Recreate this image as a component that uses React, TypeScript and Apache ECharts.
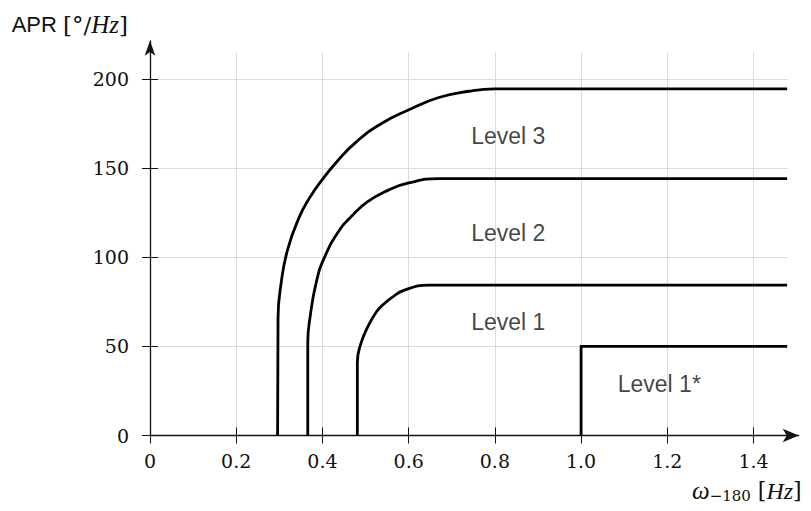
import { useEffect, useRef } from 'react';
import * as echarts from 'echarts';

// ---- Data ----
const xTicks = [0, 0.2, 0.4, 0.6, 0.8, 1.0, 1.2, 1.4];
const xTickLabels = ['0', '0.2', '0.4', '0.6', '0.8', '1.0', '1.2', '1.4'];
const yTicks = [0, 50, 100, 150, 200];
const yTickLabels = ['0', '50', '100', '150', '200'];

const level3: [number, number][] = [
  [0.296, 0], [0.297, 65.8], [0.304, 85], [0.319, 104], [0.346, 122.3], [0.369, 132.8],
  [0.4, 143.6], [0.436, 154.2], [0.478, 164.5], [0.536, 174.8], [0.602, 182.8],
  [0.67, 189.5], [0.739, 193], [0.8, 194.3], [1.478, 194.3],
];
const level2: [number, number][] = [
  [0.366, 0], [0.366, 52], [0.371, 65.8], [0.386, 86.2], [0.405, 100], [0.44, 115.4],
  [0.468, 123], [0.504, 131], [0.554, 137.7], [0.598, 141.5], [0.671, 144], [1.478, 144],
];
const level1: [number, number][] = [
  [0.481, 0], [0.481, 40.8], [0.488, 50.7], [0.508, 62.3], [0.527, 69.9], [0.541, 73.4],
  [0.56, 77.2], [0.59, 81.5], [0.648, 84.3], [1.478, 84.3],
];
const level1Star: [number, number][] = [[1.0, 0], [1.0, 50], [1.478, 50]];

const levelNames = ['Level 3', 'Level 2', 'Level 1', 'Level 1*'];
const levelLabelX = [0.745, 0.745, 0.745, 1.085];
const levelLabelY = [167.8, 113.8, 63.8, 28.8];

const W = 811;
const H = 511;

export default function App() {
  const ref = useRef<HTMLDivElement>(null);
  useEffect(() => {
    const el = ref.current as HTMLDivElement;
    const chart = echarts.init(el, null, { renderer: 'svg' });
    const plot = { left: 150, right: 23, top: 52, bottom: 75.5 };
    const axes = { left: 150, right: 12.3, top: 40.8, bottom: 75.5 };
    const xMax = 1.48;
    const yMax = 215;
    const xMaxAxes = (xMax * (W - axes.left - axes.right)) / (W - plot.left - plot.right);
    const yMaxAxes = (yMax * (H - axes.top - axes.bottom)) / (H - plot.top - plot.bottom);
    const ink = '#111';
    const pick = (ticks: number[], labels: string[]) => (v: number) => {
      const i = ticks.findIndex((t) => Math.abs(t - v) < 1e-6);
      return i >= 0 ? labels[i] : '';
    };
    const tickFont = { fontFamily: 'DejaVu Serif', fontSize: 19, color: ink };
    const curve = (name: string, data: [number, number][]) => ({
      type: 'line',
      name,
      xAxisIndex: 0,
      yAxisIndex: 0,
      data,
      symbol: 'none',
      showSymbol: false,
      smooth: 0.5,
      silent: true,
      z: 4,
      lineStyle: { color: '#000', width: 2.8, join: 'round', cap: 'butt' },
    });

    chart.setOption({
      animation: false,
      backgroundColor: '#ffffff',
      grid: [
        { ...plot, containLabel: false, outerBoundsMode: 'none' },
        { ...axes, containLabel: false, outerBoundsMode: 'none' },
      ],
      xAxis: [
        {
          gridIndex: 0, type: 'value', min: 0, max: xMax, interval: 0.2, z: 0,
          axisLine: { show: false },
          axisTick: { show: true, inside: true, length: 8, customValues: xTicks, lineStyle: { color: ink, width: 1 } },
          axisLabel: { show: false, customValues: xTicks },
          splitLine: { show: true, lineStyle: { color: '#dcdcdc', width: 1 } },
        },
        {
          gridIndex: 1, type: 'value', min: 0, max: xMaxAxes, interval: 0.2, z: 3,
          axisLine: { show: true, onZero: false, symbol: ['none', 'arrow'], symbolSize: [10, 16], lineStyle: { color: ink, width: 1.3 } },
          axisTick: { show: true, inside: false, length: 8, customValues: xTicks, lineStyle: { color: ink, width: 1 } },
          axisLabel: { show: true, customValues: xTicks, formatter: pick(xTicks, xTickLabels), margin: 16, ...tickFont },
          splitLine: { show: false },
          name: '{w|ω}{s|−180}{t| [}{h|Hz}{t|]}',
          nameLocation: 'end',
          nameGap: 3,
          nameTextStyle: {
            align: 'right',
            verticalAlign: 'top',
            padding: [42, 0, 0, 0],
            rich: {
              w: { fontFamily: 'Liberation Serif', fontStyle: 'italic', fontSize: 25, color: ink },
              s: { fontFamily: 'DejaVu Serif', fontSize: 15, color: ink, padding: [11, 0, 0, 0] },
              t: { fontFamily: 'DejaVu Serif', fontSize: 22, color: ink },
              h: { fontFamily: 'Liberation Serif', fontStyle: 'italic', fontSize: 24, color: ink },
            },
          },
        },
      ],
      yAxis: [
        {
          gridIndex: 0, type: 'value', min: 0, max: yMax, interval: 50, z: 0,
          axisLine: { show: false },
          axisTick: { show: true, inside: true, length: 8, customValues: yTicks, lineStyle: { color: ink, width: 1 } },
          axisLabel: { show: false, customValues: yTicks },
          splitLine: { show: true, lineStyle: { color: '#dcdcdc', width: 1 } },
        },
        {
          gridIndex: 1, type: 'value', min: 0, max: yMaxAxes, interval: 50, z: 3,
          axisLine: { show: true, onZero: false, symbol: ['none', 'arrow'], symbolSize: [8, 15], lineStyle: { color: ink, width: 1.3 } },
          axisTick: { show: true, inside: false, length: 8, customValues: yTicks, lineStyle: { color: ink, width: 1 } },
          axisLabel: { show: true, customValues: yTicks, formatter: pick(yTicks, yTickLabels), margin: 21, ...tickFont },
          splitLine: { show: false },
          name: '{a|APR }{b|[°/}{c|Hz}{b|]}',
          nameLocation: 'end',
          nameGap: 16,
          nameTextStyle: {
            align: 'right',
            verticalAlign: 'middle',
            padding: [0, 22, 0, 0],
            rich: {
              a: { fontFamily: 'Liberation Sans', fontSize: 22, color: ink },
              b: { fontFamily: 'DejaVu Serif', fontSize: 23, color: ink },
              c: { fontFamily: 'Liberation Serif', fontStyle: 'italic', fontSize: 25, color: ink },
            },
          },
        },
      ],
      series: [
        curve('Level 3', level3),
        curve('Level 2', level2),
        curve('Level 1', level1),
        { ...curve('Level 1*', level1Star), smooth: false },
        {
          type: 'scatter',
          xAxisIndex: 0,
          yAxisIndex: 0,
          symbolSize: 0,
          silent: true,
          z: 5,
          data: levelNames.map((n, i) => ({ name: n, value: [levelLabelX[i], levelLabelY[i]] })),
          label: {
            show: true,
            position: 'right',
            distance: 0,
            formatter: '{b}',
            fontFamily: 'Liberation Sans',
            fontSize: 23,
            color: '#111',
          },
        },
      ],
    });
    return () => chart.dispose();
  }, []);
  return (
    <div
      ref={ref}
      style={{ position: 'fixed', left: 0, top: 0, width: W, height: H, background: '#fff' }}
    />
  );
}
